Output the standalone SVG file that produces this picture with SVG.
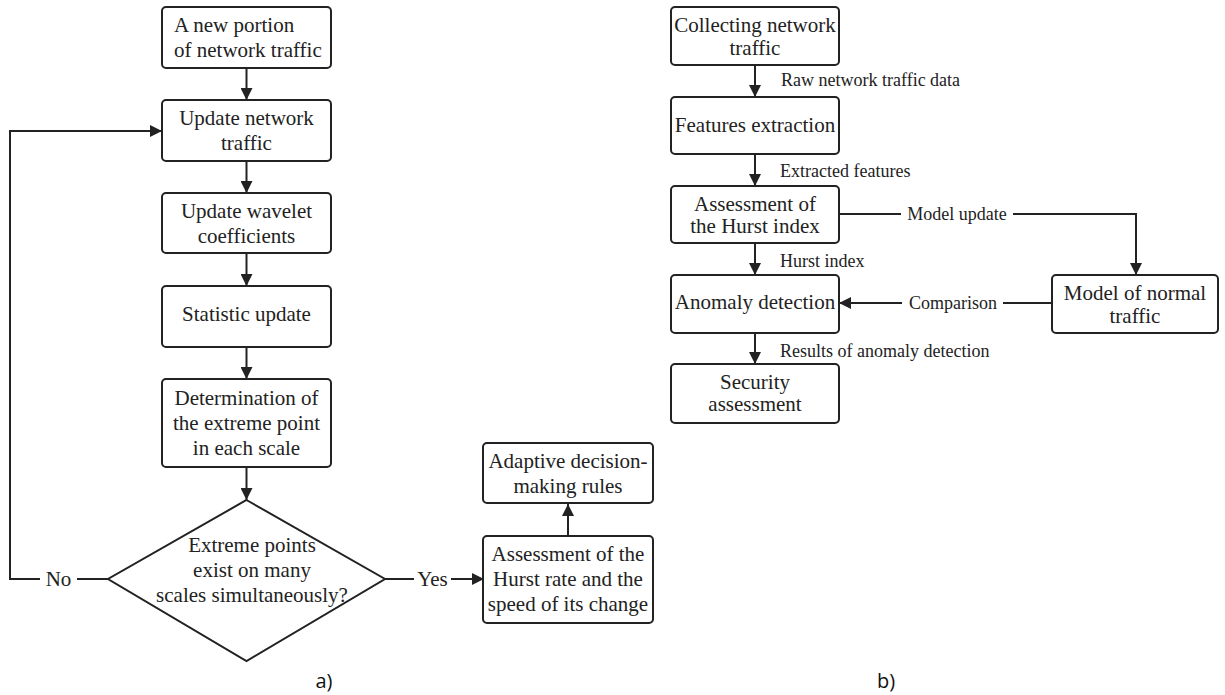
<svg xmlns="http://www.w3.org/2000/svg" width="1225" height="695" viewBox="0 0 1225 695">
<style>
.box{fill:#fff;stroke:#222;stroke-width:2}
.ln{fill:none;stroke:#222;stroke-width:2}
.t{font-family:"Liberation Serif","Times New Roman",serif;font-size:21px;fill:#222;text-anchor:middle}
.ts{font-family:"Liberation Serif","Times New Roman",serif;font-size:21px;fill:#222;text-anchor:start}
.l{font-family:"Liberation Serif","Times New Roman",serif;font-size:18px;fill:#222;text-anchor:start}
.lm{font-family:"Liberation Serif","Times New Roman",serif;font-size:18px;fill:#222;text-anchor:middle}
.cap{font-family:"Open Sans","Liberation Sans",sans-serif;font-size:20px;fill:#111;text-anchor:middle}
</style>
<defs>
<marker id="ah" viewBox="0 0 10 10" refX="10" refY="5" markerWidth="6" markerHeight="6" orient="auto" markerUnits="strokeWidth">
<path d="M0,0 L10,5 L0,10 z" fill="#222"/>
</marker>
</defs>
<rect width="1225" height="695" fill="#fff"/>
<g id="connectors">
<line class="ln" x1="246.5" y1="68" x2="246.5" y2="100" marker-end="url(#ah)"/>
<line class="ln" x1="246.5" y1="161" x2="246.5" y2="193" marker-end="url(#ah)"/>
<line class="ln" x1="246.5" y1="253" x2="246.5" y2="286" marker-end="url(#ah)"/>
<line class="ln" x1="246.5" y1="347" x2="246.5" y2="379" marker-end="url(#ah)"/>
<line class="ln" x1="246.5" y1="467" x2="246.5" y2="500" marker-end="url(#ah)"/>
<polyline class="ln" points="40,579 10,579 10,131 162,131" marker-end="url(#ah)"/>
<line class="ln" x1="77" y1="579" x2="108" y2="579"/>
<text class="lm" x="58.5" y="586" style="font-size:21px">No</text>
<line class="ln" x1="385" y1="579" x2="414" y2="579"/>
<line class="ln" x1="451" y1="579" x2="484" y2="579" marker-end="url(#ah)"/>
<text class="lm" x="432.5" y="586" style="font-size:21px">Yes</text>
<line class="ln" x1="568" y1="536" x2="568" y2="504" marker-end="url(#ah)"/>
<line class="ln" x1="755" y1="65" x2="755" y2="97" marker-end="url(#ah)"/>
<text class="l" x="781" y="86">Raw network traffic data</text>
<line class="ln" x1="755" y1="154" x2="755" y2="186" marker-end="url(#ah)"/>
<text class="l" x="780" y="177">Extracted features</text>
<line class="ln" x1="755" y1="243" x2="755" y2="275" marker-end="url(#ah)"/>
<text class="l" x="780" y="267">Hurst index</text>
<line class="ln" x1="755" y1="333" x2="755" y2="364" marker-end="url(#ah)"/>
<text class="l" x="780" y="357">Results of anomaly detection</text>
<line class="ln" x1="839" y1="214" x2="901" y2="214"/>
<text class="lm" x="957" y="220">Model update</text>
<polyline class="ln" points="1013,214 1136,214 1136,275" marker-end="url(#ah)"/>
<line class="ln" x1="1052" y1="303" x2="1003" y2="303"/>
<text class="lm" x="953" y="309">Comparison</text>
<line class="ln" x1="902" y1="303" x2="839" y2="303" marker-end="url(#ah)"/>
</g>
<g id="a1"><rect class="box" x="162" y="7" width="169" height="61" rx="4"/>
<text class="ts" x="174" y="32">A new portion</text>
<text class="ts" x="174" y="57">of network traffic</text></g>
<g id="a2"><rect class="box" x="162" y="100" width="169" height="61" rx="4"/>
<text class="t" x="246.5" y="125">Update network</text>
<text class="t" x="246.5" y="150">traffic</text></g>
<g id="a3"><rect class="box" x="162" y="193" width="169" height="60" rx="4"/>
<text class="t" x="246.5" y="218">Update wavelet</text>
<text class="t" x="246.5" y="243">coefficients</text></g>
<g id="a4"><rect class="box" x="162" y="286" width="169" height="61" rx="4"/>
<text class="t" x="246.5" y="321">Statistic update</text></g>
<g id="a5"><rect class="box" x="162" y="379" width="169" height="88" rx="4"/>
<text class="t" x="246.5" y="405">Determination of</text>
<text class="t" x="246.5" y="430">the extreme point</text>
<text class="t" x="246.5" y="455">in each scale</text></g>
<g id="a6"><polygon class="box" points="246.5,500 385,579 246.5,661 108,579"/>
<text class="t" x="252" y="552">Extreme points</text>
<text class="t" x="252" y="577">exist on many</text>
<text class="t" x="252" y="602">scales simultaneously?</text></g>
<g id="a7"><rect class="box" x="483" y="536" width="170" height="87" rx="4"/>
<text class="t" x="568" y="561">Assessment of the</text>
<text class="t" x="568" y="586">Hurst rate and the</text>
<text class="t" x="568" y="611">speed of its change</text></g>
<g id="a8"><rect class="box" x="483" y="443" width="170" height="60" rx="4"/>
<text class="t" x="568" y="468">Adaptive decision-</text>
<text class="t" x="568" y="493">making rules</text></g>
<g id="b1"><rect class="box" x="671" y="7" width="168" height="58" rx="4"/>
<text class="t" x="755" y="32">Collecting network</text>
<text class="t" x="755" y="55">traffic</text></g>
<g id="b2"><rect class="box" x="671" y="97" width="168" height="57" rx="4"/>
<text class="t" x="755" y="132">Features extraction</text></g>
<g id="b3"><rect class="box" x="671" y="186" width="168" height="57" rx="4"/>
<text class="t" x="755" y="211">Assessment of</text>
<text class="t" x="755" y="233">the Hurst index</text></g>
<g id="b4"><rect class="box" x="671" y="275" width="168" height="58" rx="4"/>
<text class="t" x="755" y="309">Anomaly detection</text></g>
<g id="b5"><rect class="box" x="1052" y="275" width="166" height="58" rx="4"/>
<text class="t" x="1135" y="300">Model of normal</text>
<text class="t" x="1135" y="323">traffic</text></g>
<g id="b6"><rect class="box" x="671" y="364" width="168" height="59" rx="4"/>
<text class="t" x="755" y="389">Security</text>
<text class="t" x="755" y="411">assessment</text></g>
<text class="cap" x="324" y="688">a)</text>
<text class="cap" x="886" y="688">b)</text>
</svg>
